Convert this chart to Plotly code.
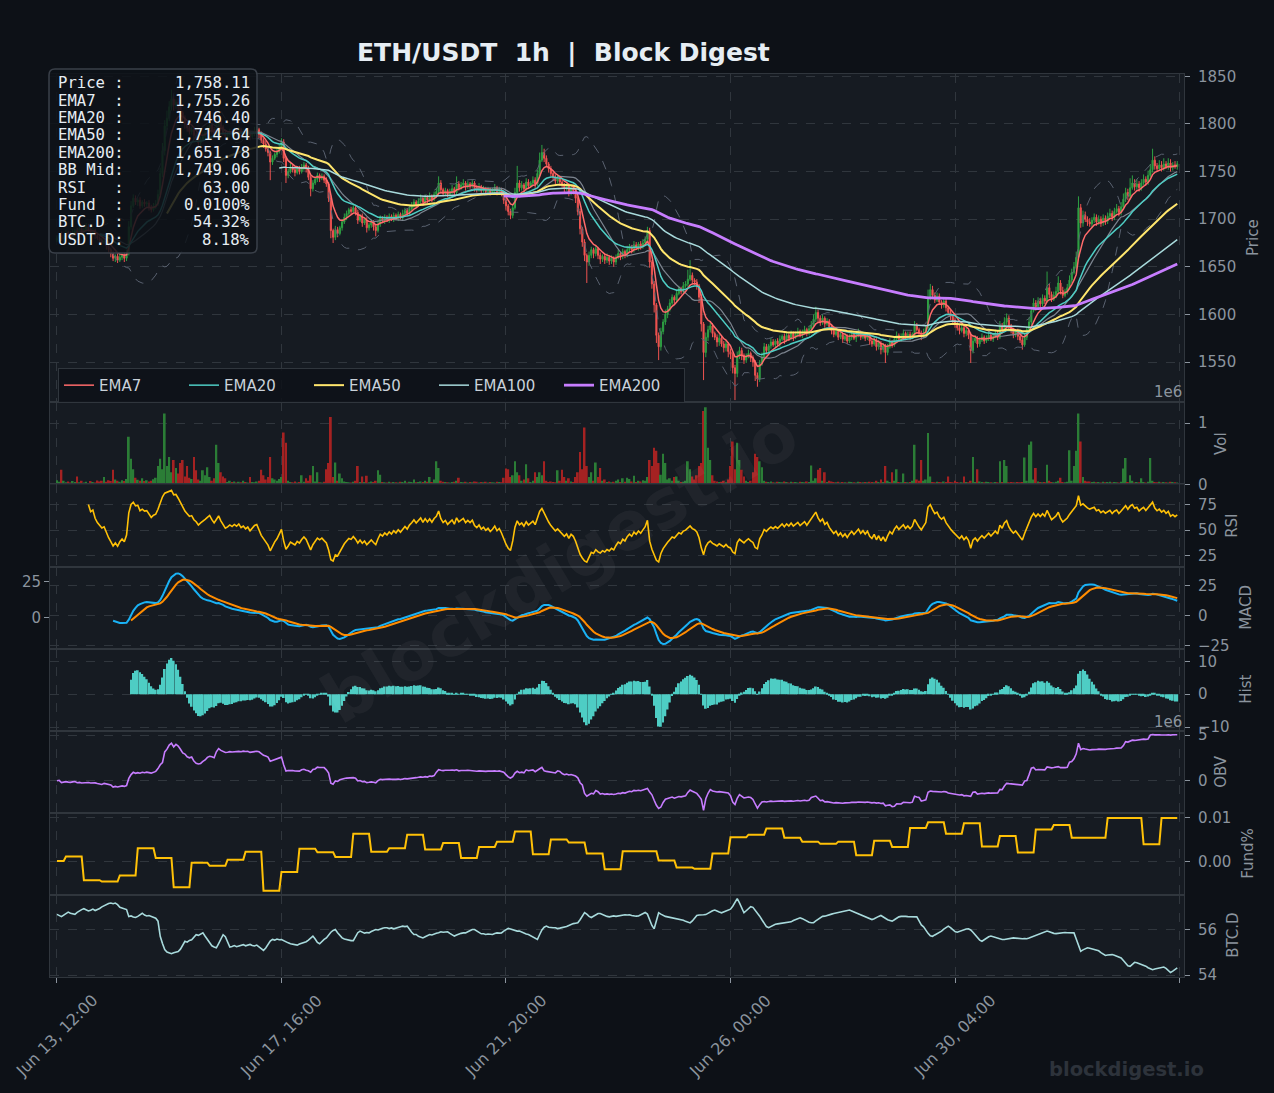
import numpy as np
import pandas as pd
import plotly.graph_objects as go
from plotly.subplots import make_subplots

# ------------------------------------------------------------------ data
tick_pos = [0, 100, 200, 300, 400, 500]
tick_labels = ["Jun 13, 12:00", "Jun 17, 16:00", "Jun 21, 20:00", "Jun 26, 00:00", "Jun 30, 04:00", ""]

close = [
 1680, 1683, 1679, 1682, 1686, 1684, 1681, 1685, 1688, 1686, 1690, 1687, 1689, 1692, 1690, 1686, 1688, 1683, 1680, 1678,
 1676, 1677, 1672, 1668, 1664, 1659, 1661, 1657, 1660, 1662, 1659, 1664, 1692, 1714, 1722, 1718, 1720, 1714, 1718, 1716,
 1717, 1713, 1710, 1714, 1716, 1726, 1748, 1772, 1798, 1806, 1818, 1826, 1820, 1823, 1818, 1812, 1806, 1800, 1796, 1792,
 1794, 1788, 1785, 1780, 1784, 1787, 1791, 1795, 1799, 1794, 1790, 1796, 1803, 1797, 1791, 1787, 1789, 1792, 1790, 1793,
 1791, 1794, 1790, 1792, 1789, 1791, 1787, 1790, 1793, 1794, 1789, 1783, 1779, 1774, 1770, 1760, 1764, 1768, 1771, 1775,
 1781, 1764, 1746, 1750, 1755, 1752, 1749, 1753, 1750, 1754, 1757, 1753, 1744, 1732, 1738, 1742, 1746, 1743, 1745, 1741,
 1737, 1722, 1688, 1681, 1689, 1685, 1691, 1697, 1702, 1706, 1710, 1708, 1712, 1707, 1699, 1703, 1696, 1699, 1691, 1694,
 1697, 1692, 1688, 1695, 1701, 1698, 1702, 1699, 1703, 1700, 1704, 1701, 1705, 1702, 1706, 1709, 1706, 1711, 1714, 1718,
 1715, 1719, 1722, 1718, 1723, 1720, 1724, 1721, 1726, 1729, 1738, 1731, 1727, 1730, 1726, 1729, 1732, 1728, 1737, 1733,
 1736, 1738, 1734, 1737, 1735, 1738, 1733, 1731, 1734, 1730, 1732, 1729, 1731, 1728, 1730, 1733, 1729, 1731, 1727, 1720,
 1714, 1708, 1704, 1712, 1728, 1738, 1733, 1736, 1732, 1739, 1735, 1738, 1741, 1737, 1748, 1762, 1770, 1764, 1758, 1753,
 1748, 1744, 1740, 1743, 1739, 1736, 1732, 1735, 1728, 1733, 1730, 1722, 1708, 1690, 1676, 1662, 1655, 1662, 1668, 1664,
 1669, 1662, 1658, 1661, 1657, 1660, 1656, 1659, 1655, 1660, 1664, 1661, 1666, 1663, 1668, 1671, 1668, 1673, 1670, 1674,
 1671, 1675, 1679, 1688, 1655, 1632, 1610, 1578, 1566, 1582, 1592, 1600, 1606, 1612, 1618, 1615, 1622, 1627, 1624, 1630,
 1632, 1637, 1641, 1636, 1634, 1630, 1618, 1590, 1560, 1576, 1584, 1588, 1580, 1576, 1571, 1575, 1569, 1565, 1569, 1561,
 1558, 1544, 1538, 1556, 1562, 1557, 1552, 1556, 1559, 1554, 1550, 1536, 1532, 1548, 1555, 1566, 1562, 1567, 1571, 1568,
 1572, 1569, 1574, 1577, 1573, 1578, 1575, 1580, 1576, 1579, 1582, 1578, 1581, 1584, 1580, 1585, 1589, 1595, 1602, 1596,
 1592, 1596, 1590, 1593, 1587, 1583, 1579, 1582, 1576, 1579, 1574, 1577, 1572, 1576, 1579, 1575, 1578, 1581, 1576, 1579,
 1575, 1578, 1572, 1569, 1573, 1566, 1570, 1563, 1567, 1560, 1566, 1571, 1568, 1574, 1578, 1574, 1577, 1580, 1576, 1579,
 1576, 1579, 1588, 1584, 1580, 1577, 1581, 1586, 1618, 1626, 1620, 1615, 1619, 1613, 1610, 1614, 1607, 1602, 1598, 1594,
 1590, 1586, 1583, 1586, 1580, 1583, 1578, 1562, 1572, 1575, 1569, 1573, 1576, 1572, 1575, 1578, 1574, 1577, 1580, 1576,
 1588, 1584, 1592, 1596, 1588, 1583, 1579, 1582, 1577, 1573, 1568, 1576, 1584, 1592, 1604, 1612, 1608, 1614, 1611, 1617,
 1614, 1628, 1621, 1616, 1620, 1624, 1633, 1625, 1620, 1624, 1628, 1636, 1644, 1650, 1660, 1712, 1696, 1704, 1700, 1697,
 1695, 1699, 1702, 1697, 1700, 1696, 1701, 1698, 1703, 1706, 1702, 1708, 1711, 1707, 1713, 1721, 1728, 1724, 1733, 1738,
 1734, 1737, 1733, 1738, 1742, 1739, 1746, 1752, 1762, 1756, 1753, 1757, 1754, 1758, 1755, 1759, 1754, 1757, 1755, 1758.11,
]

wick_up = [
 3,2,4,2,3,2,3,4,2,3,2,3,2,4,3,2,3,2,3,2,
 2,3,2,3,2,3,2,3,4,2,3,4,6,5,4,3,2,3,2,3,
 2,3,2,3,4,5,6,8,6,8,6,10,4,3,4,3,2,3,2,3,
 3,2,3,2,3,4,2,3,4,2,3,5,4,3,2,3,2,3,2,3,
 2,3,2,3,2,3,2,3,4,3,2,3,2,3,2,2,3,2,3,3,
 4,3,2,3,4,2,3,2,3,4,3,2,3,2,3,2,3,2,3,2,
 3,2,3,2,4,3,2,3,4,3,2,3,4,2,3,2,3,2,3,2,
 3,2,3,4,3,2,3,2,3,2,3,2,3,2,4,3,2,3,4,3,
 2,3,4,2,3,2,4,2,3,4,7,3,2,3,2,3,4,2,8,3,
 3,4,2,3,2,3,2,3,4,2,3,2,3,2,3,4,2,3,2,3,
 3,2,3,4,5,18,3,4,2,4,3,2,4,3,4,8,8,4,3,2,
 3,2,3,4,2,3,2,4,3,4,2,3,2,3,2,3,2,4,3,2,
 4,2,3,2,3,4,2,3,2,3,4,2,3,2,4,3,2,4,3,2,
 3,4,3,4,3,2,3,2,3,4,3,5,3,4,3,2,4,3,2,4,
 3,10,16,3,2,3,2,3,2,5,4,4,3,2,3,4,2,3,4,2,
 3,2,3,5,4,3,2,3,4,2,3,2,3,4,5,4,3,2,4,3,
 2,3,4,2,3,4,2,3,2,3,4,2,3,4,2,3,4,5,6,3,
 3,4,2,3,2,3,2,3,2,3,2,3,2,3,4,2,3,4,2,3,
 2,3,2,3,4,2,3,2,3,2,3,4,2,3,4,2,3,4,2,3,
 3,2,5,3,2,3,4,3,8,6,4,3,4,3,2,4,3,2,3,2,
 3,2,3,4,2,3,2,3,4,3,2,3,4,2,3,4,2,3,4,3,
 5,3,5,5,3,2,3,2,3,2,3,4,3,5,4,5,3,4,3,4,
 3,17,4,3,4,5,7,3,4,3,4,5,4,5,6,12,4,5,4,3,
 4,3,4,3,4,3,4,3,4,5,3,4,5,3,5,6,5,4,10,8,
 4,5,3,4,5,3,5,6,12,4,3,5,4,6,3,5,4,3,4,3,
]

wick_dn = [
 2,3,2,3,2,4,3,2,3,2,3,2,4,2,3,2,3,4,2,3,
 3,2,4,3,4,3,4,3,2,3,4,3,2,3,2,3,4,3,2,3,
 3,4,3,2,3,2,3,4,5,4,3,4,6,4,5,4,3,5,4,3,
 3,4,3,5,3,2,3,2,3,4,3,2,3,4,3,4,2,3,2,3,
 3,2,3,2,3,2,4,2,3,2,4,3,4,3,4,19,3,2,3,2,
 2,4,8,3,2,3,4,2,3,2,3,4,3,8,3,2,3,4,2,3,
 3,4,8,6,3,4,2,3,2,3,2,3,2,3,4,2,4,2,5,3,
 3,4,6,2,3,2,3,2,3,2,3,2,3,2,3,2,3,2,3,2,
 3,2,3,4,2,3,2,3,2,3,2,4,3,2,3,2,3,4,2,3,
 2,3,4,2,3,2,4,3,2,3,2,3,2,3,2,3,4,2,3,4,
 5,4,4,3,2,3,4,3,4,2,3,2,3,4,2,3,2,4,3,4,
 3,4,3,2,4,3,5,2,4,3,4,5,4,6,5,6,22,4,3,5,
 3,4,5,3,4,3,4,3,5,3,2,4,3,4,3,2,4,3,2,3,
 3,2,3,2,6,5,8,8,14,4,3,3,4,3,2,4,3,2,3,2,
 2,3,2,4,3,4,6,8,29,5,4,3,4,3,5,4,3,5,4,6,
 5,6,28,4,3,5,4,3,2,4,5,6,8,3,2,3,4,2,3,2,
 3,2,3,2,4,2,3,2,4,2,3,2,3,2,3,2,3,2,3,4,
 4,3,4,2,3,4,3,2,3,2,4,2,3,2,3,2,4,2,3,2,
 3,2,4,3,2,4,3,5,3,11,3,2,3,2,3,2,3,2,3,2,
 3,2,3,2,3,4,2,3,2,3,4,3,2,3,4,3,4,3,4,3,
 4,3,4,2,4,3,4,13,3,2,4,3,2,3,2,3,2,3,2,3,
 2,3,2,3,4,3,4,3,4,3,5,2,3,2,3,2,4,3,4,3,
 3,2,4,3,2,3,2,4,3,2,3,2,3,2,3,3,5,4,3,4,
 3,4,3,4,3,4,3,4,3,2,4,3,2,4,3,2,3,4,3,2,
 4,3,4,3,2,4,3,2,3,4,3,2,4,3,2,3,4,3,2,3,
]

volume_k = [
 70, 45, 240, 60, 35, 50, 30, 55, 40, 130, 35, 60, 30, 45, 25, 55, 40, 30, 65, 50,
 60, 120, 45, 70, 55, 240, 80, 60, 45, 70, 55, 90, 780, 420, 250, 110, 75, 60, 100, 55,
 70, 50, 60, 85, 110, 300, 420, 250, 1160, 300, 450, 200, 400, 270, 180, 350, 400, 130, 300, 110,
 90, 450, 230, 80, 60, 230, 150, 280, 120, 60, 100, 650, 350, 200, 130, 100, 40, 60, 40, 50,
 30, 45, 35, 60, 40, 30, 120, 40, 35, 50, 60, 240, 150, 80, 120, 450, 100, 80, 60, 90,
 120, 850, 680, 60, 40, 35, 50, 30, 40, 150, 45, 100, 60, 150, 300, 50, 200, 35, 30, 45,
 250, 350, 1100, 120, 360, 60, 180, 100, 50, 40, 35, 30, 45, 60, 300, 40, 130, 40, 140, 35,
 50, 40, 60, 230, 160, 40, 35, 30, 45, 30, 40, 35, 30, 45, 40, 60, 30, 45, 40, 80,
 35, 40, 50, 40, 60, 45, 120, 40, 80, 380, 270, 60, 45, 40, 35, 30, 40, 45, 60, 110,
 40, 35, 45, 30, 40, 35, 50, 45, 30, 40, 35, 45, 30, 40, 35, 30, 45, 40, 35, 110,
 260, 250, 120, 150, 380, 200, 150, 60, 80, 330, 100, 40, 60, 200, 120, 200, 150, 380, 60, 40,
 50, 40, 35, 230, 60, 240, 120, 60, 100, 50, 40, 120, 200, 530, 250, 930, 300, 120, 200, 60,
 360, 120, 270, 60, 80, 40, 50, 35, 45, 60, 80, 40, 100, 45, 110, 90, 50, 140, 40, 60,
 50, 70, 60, 120, 400, 300, 600, 550, 350, 160, 500, 350, 80, 100, 60, 120, 130, 60, 40, 45,
 60, 380, 250, 130, 80, 150, 300, 350, 1200, 1260, 600, 400, 150, 60, 50, 40, 45, 60, 35, 80,
 300, 700, 250, 680, 400, 240, 130, 60, 40, 60, 200, 500, 450, 380, 280, 60, 45, 40, 50, 35,
 30, 45, 40, 35, 50, 40, 30, 45, 35, 40, 30, 45, 40, 35, 50, 40, 310, 60, 100, 240,
 270, 60, 200, 40, 60, 50, 40, 35, 45, 30, 40, 35, 30, 45, 40, 35, 30, 45, 40, 35,
 40, 35, 45, 40, 35, 60, 40, 80, 40, 300, 60, 40, 200, 60, 250, 40, 35, 180, 40, 35,
 40, 60, 650, 80, 60, 400, 60, 80, 840, 130, 40, 35, 45, 40, 35, 50, 40, 130, 40, 35,
 60, 40, 30, 35, 130, 40, 35, 60, 450, 40, 250, 50, 40, 35, 45, 40, 35, 30, 40, 35,
 380, 40, 400, 300, 35, 40, 35, 30, 40, 35, 40, 440, 60, 650, 700, 80, 270, 50, 40, 35,
 40, 320, 60, 40, 35, 45, 60, 110, 40, 35, 45, 560, 60, 300, 550, 1160, 700, 120, 60, 50,
 50, 40, 45, 35, 40, 30, 45, 35, 40, 45, 30, 40, 35, 30, 45, 260, 430, 40, 150, 60,
 30, 40, 35, 100, 40, 30, 45, 430, 60, 40, 35, 45, 30, 40, 35, 30, 45, 40, 35, 30,
]

btc_d = [
 56.69, 56.64, 56.59, 56.66, 56.72, 56.79, 56.74, 56.70, 56.69, 56.78, 56.85, 56.90, 56.94, 56.88, 56.84, 56.87, 56.92, 56.86, 56.90, 56.95,
 57.02, 57.08, 57.12, 57.17, 57.19, 57.16, 57.19, 57.12, 57.00, 56.96, 56.93, 56.90, 56.59, 56.62, 56.57, 56.55, 56.60, 56.68, 56.74, 56.66,
 56.62, 56.64, 56.60, 56.59, 56.52, 56.39, 55.72, 55.40, 55.13, 55.02, 54.97, 54.95, 54.99, 55.03, 55.05, 55.15, 55.32, 55.50, 55.46, 55.54,
 55.57, 55.66, 55.79, 55.76, 55.83, 55.87, 55.72, 55.57, 55.44, 55.30, 55.25, 55.21, 55.40, 55.62, 55.79, 55.70, 55.45, 55.24, 55.27, 55.31,
 55.26, 55.28, 55.31, 55.35, 55.30, 55.33, 55.36, 55.31, 55.29, 55.33, 55.25, 55.18, 55.10, 55.20, 55.38, 55.51, 55.58, 55.55, 55.60, 55.57,
 55.58, 55.52, 55.47, 55.43, 55.39, 55.36, 55.34, 55.33, 55.38, 55.41, 55.43, 55.48, 55.55, 55.64, 55.73, 55.60, 55.45, 55.39, 55.50, 55.58,
 55.65, 55.78, 55.90, 55.98, 56.02, 55.88, 55.75, 55.65, 55.60, 55.57, 55.55, 55.53, 55.53, 55.72, 55.88, 55.95, 55.90, 55.86, 55.89, 55.87,
 55.93, 55.98, 56.02, 56.00, 56.05, 56.08, 56.10, 56.10, 56.06, 56.09, 56.05, 56.07, 56.11, 56.14, 56.17, 56.15, 56.17, 56.02, 55.90, 55.80,
 55.80, 55.72, 55.68, 55.65, 55.70, 55.76, 55.80, 55.78, 55.80, 55.85, 55.88, 55.92, 55.90, 55.92, 55.92, 55.85, 55.78, 55.73, 55.78, 55.83,
 55.85, 55.87, 55.87, 55.92, 55.97, 56.02, 56.02, 55.95, 55.88, 55.83, 55.83, 55.80, 55.82, 55.80, 55.80, 55.84, 55.87, 55.86, 55.87, 55.95,
 56.02, 56.07, 56.04, 56.00, 55.96, 55.95, 55.95, 55.90, 55.86, 55.82, 55.80, 55.74, 55.68, 55.62, 55.58, 55.80, 56.00, 56.12, 56.17, 56.12,
 56.10, 56.10, 56.10, 56.06, 56.08, 56.10, 56.10, 56.15, 56.20, 56.25, 56.28, 56.30, 56.32, 56.45, 56.62, 56.77, 56.70, 56.60, 56.55, 56.62,
 56.68, 56.73, 56.73, 56.68, 56.63, 56.60, 56.58, 56.60, 56.62, 56.60, 56.62, 56.62, 56.65, 56.67, 56.66, 56.67, 56.64, 56.62, 56.61, 56.62,
 56.66, 56.72, 56.77, 56.70, 56.45, 56.20, 56.05, 56.40, 56.76, 56.70, 56.64, 56.60, 56.58, 56.56, 56.54, 56.52, 56.51, 56.50, 56.47, 56.43,
 56.38, 56.34, 56.31, 56.40, 56.52, 56.64, 56.66, 56.65, 56.67, 56.68, 56.74, 56.80, 56.85, 56.88, 56.82, 56.79, 56.76, 56.80, 56.84, 56.88,
 56.92, 57.05, 57.20, 57.39, 57.20, 56.95, 56.76, 56.85, 56.95, 57.03, 57.00, 56.88, 56.75, 56.61, 56.45, 56.28, 56.15, 56.10, 56.16, 56.22,
 56.25, 56.27, 56.28, 56.30, 56.31, 56.32, 56.32, 56.36, 56.42, 56.47, 56.50, 56.54, 56.50, 56.44, 56.38, 56.34, 56.32, 56.32, 56.40, 56.48,
 56.55, 56.60, 56.61, 56.63, 56.66, 56.70, 56.73, 56.75, 56.76, 56.79, 56.82, 56.85, 56.87, 56.88, 56.84, 56.80, 56.75, 56.70, 56.69, 56.65,
 56.60, 56.55, 56.50, 56.46, 56.50, 56.56, 56.60, 56.64, 56.58, 56.50, 56.45, 56.42, 56.39, 56.45, 56.52, 56.58, 56.60, 56.61, 56.60, 56.59,
 56.58, 56.60, 56.59, 56.58, 56.40, 56.22, 56.14, 55.98, 55.85, 55.74, 55.72, 55.78, 55.83, 55.87, 55.95, 56.04, 56.12, 56.17, 56.10, 56.00,
 55.93, 55.90, 55.94, 55.98, 56.01, 56.04, 56.05, 56.00, 55.90, 55.78, 55.65, 55.55, 55.50, 55.58, 55.65, 55.70, 55.73, 55.70, 55.66, 55.62,
 55.60, 55.58, 55.58, 55.60, 55.62, 55.64, 55.65, 55.64, 55.62, 55.60, 55.61, 55.62, 55.61, 55.64, 55.68, 55.72, 55.76, 55.80, 55.85, 55.90,
 55.93, 55.95, 55.92, 55.88, 55.85, 55.84, 55.86, 55.88, 55.90, 55.89, 55.88, 55.87, 55.88, 55.87, 55.60, 55.30, 55.06, 55.12, 55.18, 55.21,
 55.19, 55.16, 55.14, 55.13, 55.08, 55.00, 54.92, 54.87, 54.89, 54.91, 54.91, 54.88, 54.84, 54.80, 54.76, 54.65, 54.52, 54.42, 54.39, 54.48,
 54.57, 54.55, 54.51, 54.48, 54.46, 54.40, 54.33, 54.28, 54.24, 54.27, 54.30, 54.31, 54.33, 54.36, 54.30, 54.20, 54.12, 54.18, 54.26, 54.32,
]

# funding rate (%), one value per 8h funding period (first period covers 4 bars)
fund_8h = [
 0.0002, 0.0012, -0.0042, -0.0045, -0.0031, 0.0031, 0.0009, -0.0058, -0.0002, -0.0009,
 0.0005, 0.0023, -0.0066, -0.0023, 0.0030, 0.0022, 0.0011, 0.0064, 0.0023, 0.0031,
 0.0062, 0.0028, 0.0043, 0.0009, 0.0034, 0.0046, 0.0069, 0.0017, 0.0051, 0.0044,
 0.0019, -0.0017, 0.0024, 0.0024, 0.0003, -0.0013, -0.0016, 0.0019, 0.0056, 0.0062,
 0.0076, 0.0055, 0.0046, 0.0041, 0.0046, 0.0015, 0.0048, 0.0034, 0.0077, 0.0090,
 0.0064, 0.0088, 0.0035, 0.0059, 0.0021, 0.0074, 0.0084, 0.0055, 0.0055, 0.0100,
 0.0100, 0.0040, 0.0100,
]

info_labels = ["Price :", "EMA7  :", "EMA20 :", "EMA50 :", "EMA200:", "BB Mid:", "RSI   :", "Fund  :", "BTC.D :", "USDT.D:"]
info_values = ["1,758.11", "1,755.26", "1,746.40", "1,714.64", "1,651.78", "1,749.06", "63.00", "0.0100%", "54.32%", "8.18%"]

# ------------------------------------------------------------------ derived series
n = len(close)
assert all(len(a) == n for a in (wick_up, wick_dn, volume_k, btc_d)), "length mismatch"
x = np.arange(n)
c = pd.Series(close, dtype=float)
o = c.shift(1)
o.iloc[0] = c.iloc[0] - 2
hi = np.maximum(o, c) + np.array(wick_up)
lo = np.minimum(o, c) - np.array(wick_dn)
vol = np.array(volume_k, dtype=float) * 1000.0


def ema(s, span):
    return s.ewm(span=span, adjust=False, min_periods=span).mean()


ema_spans = [7, 20, 50, 100, 200]
ema_colors = ["#ff6b6b", "#4ecdc4", "#ffe66d", "#a8dadc", "#c77dff"]
ema_widths = [1.5, 1.5, 2.0, 1.5, 2.8]

bb_mid = c.rolling(20).mean()
bb_std = c.rolling(20).std()
bb_up = bb_mid + 2 * bb_std
bb_lo = bb_mid - 2 * bb_std

d = c.diff()
gain = d.clip(lower=0).ewm(alpha=1 / 14, adjust=False, min_periods=14).mean()
loss = (-d.clip(upper=0)).ewm(alpha=1 / 14, adjust=False, min_periods=14).mean()
rsi = 100 - 100 / (1 + gain / loss)

macd = ema(c, 12) - ema(c, 26)
signal = macd.ewm(span=9, adjust=False, min_periods=9).mean()
hist = macd - signal

obv = (np.sign(d).fillna(0) * vol).cumsum()

fund = [fund_8h[0 if i < 4 else 1 + (i - 4) // 8] for i in range(n)]

up_mask = (c >= o).values
vol_colors = np.where(up_mask, "#2b7d36", "#a52222")

# ------------------------------------------------------------------ layout helpers
W, H = 1274, 1093
ML, MR, MT, MB = 50, 90, 74, 115.7
PW, PH = W - ML - MR, H - MT - MB


def px(v):
    return (v - ML) / PW


def py(v):
    return (H - MB - v) / PH


BG = "#0d1117"
PLOT_BG = "#161b22"
GRID = "#30363d"
TXT = "#8b949e"
FONT = "DejaVu Sans"

fig = make_subplots(rows=8, cols=1, shared_xaxes=True, vertical_spacing=0,
                    row_heights=[4, 1, 1, 1, 1, 1, 1, 1])

# price panel
fig.add_trace(go.Scatter(x=x, y=bb_up, mode="lines", line=dict(color="#5a6270", width=1, dash="dash"),
                         showlegend=False, hoverinfo="skip"), row=1, col=1)
fig.add_trace(go.Scatter(x=x, y=bb_lo, mode="lines", line=dict(color="#5a6270", width=1, dash="dash"),
                         showlegend=False, hoverinfo="skip"), row=1, col=1)
fig.add_trace(go.Candlestick(x=x, open=o, high=hi, low=lo, close=c,
                             increasing=dict(line=dict(color="#2ea043", width=1), fillcolor="#2ea043"),
                             decreasing=dict(line=dict(color="#ef5350", width=1), fillcolor="#ef5350"),
                             whiskerwidth=0, showlegend=False, hoverinfo="skip"), row=1, col=1)
fig.add_trace(go.Scatter(x=x, y=bb_mid, mode="lines", line=dict(color="#7d8590", width=1.2),
                         showlegend=False, hoverinfo="skip"), row=1, col=1)
for span, col, w in zip(ema_spans, ema_colors, ema_widths):
    fig.add_trace(go.Scatter(x=x, y=ema(c, span), mode="lines", name=f"EMA{span}",
                             line=dict(color=col, width=w)), row=1, col=1)

# volume
fig.add_trace(go.Bar(x=x, y=vol, marker=dict(color=vol_colors, line=dict(width=0)),
                     showlegend=False), row=2, col=1)
# RSI
fig.add_trace(go.Scatter(x=x, y=rsi, mode="lines", line=dict(color="#ffc107", width=1.6),
                         showlegend=False), row=3, col=1)
# MACD
fig.add_trace(go.Scatter(x=x, y=macd, mode="lines", line=dict(color="#1ab2f5", width=2),
                         showlegend=False), row=4, col=1)
fig.add_trace(go.Scatter(x=x, y=signal, mode="lines", line=dict(color="#ff8c00", width=2),
                         showlegend=False), row=4, col=1)
fig.add_trace(go.Scatter(x=[None], y=[None], xaxis="x4", yaxis="y9", showlegend=False))
# Hist
fig.add_trace(go.Bar(x=x, y=hist, marker=dict(color="#4ecdc4", line=dict(width=0)), width=0.8,
                     showlegend=False), row=5, col=1)
# OBV
fig.add_trace(go.Scatter(x=x, y=obv, mode="lines", line=dict(color="#c77dff", width=1.6),
                         showlegend=False), row=6, col=1)
# Funding
fig.add_trace(go.Scatter(x=x, y=fund, mode="lines", line=dict(color="#ffc107", width=2),
                         showlegend=False), row=7, col=1)
# BTC dominance
fig.add_trace(go.Scatter(x=x, y=btc_d, mode="lines", line=dict(color="#a8dadc", width=1.6),
                         showlegend=False), row=8, col=1)

# ------------------------------------------------------------------ axes
xr = [-3.1, 502.0]
for r in range(1, 9):
    fig.update_xaxes(row=r, col=1, range=xr, tickvals=tick_pos,
                     showgrid=True, gridcolor=GRID, griddash="dash", gridwidth=1,
                     showline=True, mirror=True, linecolor=GRID, linewidth=1,
                     zeroline=False, rangeslider_visible=False,
                     showticklabels=False, ticks="outside" if r == 8 else "",
                     ticklen=5, tickcolor=TXT)

yspec = {
    1: dict(range=[1507.6, 1852.5], tickvals=[1550, 1600, 1650, 1700, 1750, 1800, 1850]),
    2: dict(range=[0, 1.34e6], tickvals=[0, 1e6], ticktext=["0", "1"]),
    3: dict(range=[13.8, 95.3], tickvals=[25, 50, 75]),
    4: dict(range=[-27.8, 40.8], tickvals=[-25, 0, 25]),
    5: dict(range=[-11.1, 13.85], tickvals=[-10, 0, 10]),
    6: dict(range=[-3.51e6, 5.47e6], tickvals=[0, 5e6], ticktext=["0", "5"]),
    7: dict(range=[-0.00755, 0.01118], tickvals=[0, 0.01], ticktext=["0.00", "0.01"]),
    8: dict(range=[53.92, 57.55], tickvals=[54, 56]),
}
for r, spec in yspec.items():
    fig.update_yaxes(row=r, col=1, side="right", showgrid=True, gridcolor=GRID, griddash="dash",
                     gridwidth=1, zeroline=False, showline=True, mirror=True, linecolor=GRID,
                     linewidth=1, ticks="outside", ticklen=5, tickcolor=TXT, ticklabelstandoff=5,
                     tickfont=dict(family=FONT, size=15, color=TXT), **spec)

fig.update_layout(yaxis9=dict(overlaying="y4", side="left", anchor="x4", range=[-21.0, 35.2],
                              tickvals=[0, 25], showgrid=False, zeroline=False, showline=False,
                              ticks="outside", ticklen=5, tickcolor=TXT,
                              tickfont=dict(family=FONT, size=15, color=TXT)))

# ------------------------------------------------------------------ annotations / shapes
ann = []
ann.append(dict(text="<b>ETH/USDT\u00a0\u00a01h\u00a0\u00a0|\u00a0\u00a0Block Digest</b>",
                x=px(563), y=py(52), xref="paper", yref="paper", showarrow=False,
                xanchor="center", yanchor="middle",
                font=dict(family=FONT, size=25, color="#e6edf3")))
ann.append(dict(text="<b>blockdigest.io</b>", x=px(560), y=py(567), xref="paper", yref="paper",
                showarrow=False, textangle=-31, xanchor="center", yanchor="middle",
                font=dict(family=FONT, size=68, color="rgba(255,255,255,0.045)")))
ann.append(dict(text="<b>blockdigest.io</b>", x=px(1126), y=py(1070), xref="paper", yref="paper",
                showarrow=False, xanchor="center", yanchor="middle",
                font=dict(family=FONT, size=19.5, color="#2d333b")))

# rotated date labels centred under their ticks
for tv, tl in zip(tick_pos, tick_labels):
    if tl:
        ann.append(dict(text=tl, x=(tv - xr[0]) / (xr[1] - xr[0]), y=py(1036), xref="paper", yref="paper",
                        showarrow=False, textangle=-45, xanchor="center", yanchor="middle",
                        font=dict(family=FONT, size=16, color=TXT)))

axis_titles = [("Price", 1253, 238), ("Vol", 1221, 444), ("RSI", 1232, 526), ("MACD", 1246, 608),
               ("Hist", 1246, 690), ("OBV", 1221, 772), ("Fund%", 1248, 854), ("BTC.D", 1233, 936)]
for t, ax_, ay_ in axis_titles:
    ann.append(dict(text=t, x=px(ax_), y=py(ay_), xref="paper", yref="paper", showarrow=False,
                    textangle=-90, xanchor="center", yanchor="middle",
                    font=dict(family=FONT, size=15, color=TXT)))
for yy in (392, 722):
    ann.append(dict(text="1e6", x=px(1184), y=py(yy), xref="paper", yref="paper", showarrow=False,
                    xanchor="right", yanchor="middle", font=dict(family=FONT, size=15, color=TXT)))

MONO = "DejaVu Sans Mono"
for k, (lab, val) in enumerate(zip(info_labels, info_values)):
    yy = 83.3 + 17.4 * k
    ann.append(dict(text=lab.replace(" ", "\u00a0"), x=px(56), y=py(yy), xref="paper", yref="paper",
                    showarrow=False, xanchor="left", yanchor="middle",
                    font=dict(family=MONO, size=15.6, color="#e6edf3")))
    ann.append(dict(text=val, x=px(251.5), y=py(yy), xref="paper", yref="paper",
                    showarrow=False, xanchor="right", yanchor="middle",
                    font=dict(family=MONO, size=15.6, color="#e6edf3")))


def rounded_path(x0, y0, x1, y1, r):
    pts = [f"M {px(x0 + r)},{py(y0)}", f"L {px(x1 - r)},{py(y0)}",
           f"Q {px(x1)},{py(y0)} {px(x1)},{py(y0 + r)}", f"L {px(x1)},{py(y1 - r)}",
           f"Q {px(x1)},{py(y1)} {px(x1 - r)},{py(y1)}", f"L {px(x0 + r)},{py(y1)}",
           f"Q {px(x0)},{py(y1)} {px(x0)},{py(y1 - r)}", f"L {px(x0)},{py(y0 + r)}",
           f"Q {px(x0)},{py(y0)} {px(x0 + r)},{py(y0)}", "Z"]
    return " ".join(pts)


shapes = [dict(type="path", path=rounded_path(49, 69, 257, 253, 6), xref="paper", yref="paper",
               fillcolor="rgba(13,17,23,0.86)", line=dict(color="#3a4049", width=1.5), layer="above")]

fig.update_layout(
    width=W, height=H, template="none",
    margin=dict(l=ML, r=MR, t=MT, b=MB, autoexpand=False),
    paper_bgcolor=BG, plot_bgcolor=PLOT_BG,
    font=dict(family=FONT, size=15, color=TXT),
    hovermode=False, bargap=0.2,
    showlegend=True,
    legend=dict(orientation="h", x=px(58), y=py(368), xanchor="left", yanchor="top",
                bgcolor="rgba(13,17,23,0.85)", bordercolor="#30363d", borderwidth=1,
                font=dict(family=FONT, size=15, color="#c9d1d9"), itemwidth=30,
                entrywidth=80, entrywidthmode="pixels"),
    annotations=ann, shapes=shapes,
)

fig.write_html("out.html")
